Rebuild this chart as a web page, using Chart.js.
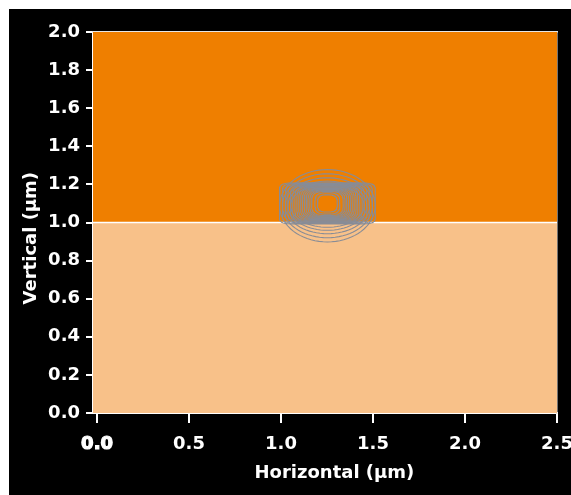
<!DOCTYPE html>
<html lang="en">
<head>
<meta charset="UTF-8">
<title>Mode profile</title>
<style>
  body { margin: 0; background: #fff; }
  #wrap { position: absolute; left: 9px; top: 9px; width: 562px; height: 486px; background: #000; }
</style>
</head>
<body>
<div id="wrap"><canvas id="myChart"></canvas></div>

<script src="https://cdn.jsdelivr.net/npm/chart.js"></script>
<script>
// two material layers, stacked vertically
const layerFrom = [0.0, 1.0];
const layerTo = [1.0, 2.0];
const layerColors = ['#f8c189', '#ef7f00'];

const xRange = [-0.022, 2.5];
const xTicks = [0.0, 0.5, 1.0, 1.5, 2.0, 2.5];
const yTicks = [0.0, 0.2, 0.4, 0.6, 0.8, 1.0, 1.2, 1.4, 1.6, 1.8, 2.0];

// field contours: centre, half width, half height, squareness (2 = ellipse)
const ringCx = 1.252;
const ringCy = [1.088, 1.088, 1.088, 1.088, 1.088,
                1.10, 1.10, 1.10, 1.10, 1.10, 1.10, 1.10, 1.10, 1.10, 1.10, 1.10,
                1.10, 1.10, 1.10, 1.10, 1.10, 1.10, 1.10];
const ringHalfW = [0.26, 0.245, 0.23, 0.215, 0.20,
                   0.261, 0.245, 0.228, 0.215, 0.201, 0.189, 0.177, 0.166, 0.156, 0.146, 0.136,
                   0.126, 0.116, 0.106, 0.096, 0.086, 0.068, 0.054];
const ringHalfH = [0.19, 0.168, 0.147, 0.129, 0.113,
                   0.108, 0.105, 0.102, 0.100, 0.097, 0.094, 0.091, 0.088, 0.085, 0.082, 0.079,
                   0.076, 0.073, 0.070, 0.067, 0.063, 0.056, 0.045];
const ringPower = [2, 2, 2, 2, 2,
                   10, 9, 8, 7, 6.5, 6, 5.6, 5.2, 4.9, 4.6, 4.4,
                   4.2, 4, 3.8, 3.6, 3.4, 3.2, 3];

function ringPoints(i) {
  const pts = [];
  const e = 2 / ringPower[i];
  for (let k = 0; k <= 72; k++) {
    const t = k / 72 * Math.PI * 2;
    const c = Math.cos(t), s = Math.sin(t);
    pts.push({
      x: ringCx + ringHalfW[i] * Math.sign(c) * Math.pow(Math.abs(c), e),
      y: ringCy[i] + ringHalfH[i] * Math.sign(s) * Math.pow(Math.abs(s), e)
    });
  }
  return pts;
}

const datasets = [];
for (let i = 0; i < ringPower.length; i++) {
  datasets.push({
    data: ringPoints(i),
    showLine: true,
    borderColor: 'rgb(136,140,150)',
    borderWidth: 1.1,
    pointRadius: 0,
    fill: false,
    order: 0
  });
}
for (let i = 0; i < layerColors.length; i++) {
  datasets.push({
    data: [{ x: xRange[0], y: layerTo[i] }, { x: xRange[1], y: layerTo[i] }],
    showLine: true,
    fill: { value: layerFrom[i] },
    backgroundColor: layerColors[i],
    borderColor: '#fff',
    borderWidth: i === 0 ? 1.5 : 0,
    pointRadius: 0,
    order: 2
  });
}

const tickFont = { family: 'DejaVu Sans', size: 18, weight: 'bold' };
const titleFont = { family: 'DejaVu Sans', size: 18, weight: 'bold' };

new Chart(document.getElementById('myChart'), {
  type: 'scatter',
  data: { datasets: datasets },
  options: {
    responsive: true,
    maintainAspectRatio: false,
    animation: false,
    layout: { padding: { top: 23, right: 14, left: 0, bottom: 0 } },
    plugins: { legend: { display: false }, tooltip: { enabled: false } },
    scales: {
      x: {
        type: 'linear',
        min: xRange[0],
        max: xRange[1],
        afterBuildTicks: s => { s.ticks = xTicks.map(v => ({ value: v })); },
        afterFit: s => { s.height = 82; s.paddingLeft = 0; s.paddingRight = 0; },
        ticks: {
          color: '#fff',
          font: tickFont,
          padding: 11,
          maxRotation: 0,
          autoSkip: false,
          callback: v => v.toFixed(1),
          textStrokeColor: '#fff',
          textStrokeWidth: c => c.index === 0 ? 1.2 : 0
        },
        grid: { display: true, drawOnChartArea: false, drawTicks: true, tickLength: 10, color: '#fff', lineWidth: 2 },
        border: { color: '#fff', width: 2 },
        title: { display: true, text: '   Horizontal (μm)', color: '#fff', font: titleFont, padding: { top: 0, bottom: 11 } }
      },
      y: {
        type: 'linear',
        min: 0,
        max: 2,
        afterBuildTicks: s => { s.ticks = yTicks.map(v => ({ value: v })); },
        afterFit: s => { s.width = 84; },
        ticks: { color: '#fff', font: tickFont, padding: 6, autoSkip: false, callback: v => v.toFixed(1) },
        grid: { display: true, drawOnChartArea: false, drawTicks: true, tickLength: 7, color: '#fff', lineWidth: 2 },
        border: { color: '#fff', width: 2 },
        title: { display: true, text: 'Vertical (μm)     ', color: '#fff', font: titleFont, padding: { top: 12, bottom: 0 } }
      },
      x2: {
        type: 'linear',
        position: 'top',
        min: xRange[0],
        max: xRange[1],
        ticks: { display: false },
        grid: { display: false, drawTicks: false },
        border: { display: true, color: '#e6e6e6', width: 1.5 },
        afterFit: s => { s.height = 0; }
      },
      y2: {
        type: 'linear',
        position: 'right',
        min: 0,
        max: 2,
        ticks: { display: false },
        grid: { display: false, drawTicks: false },
        border: { display: true, color: '#e6e6e6', width: 1.5 },
        afterFit: s => { s.width = 0; }
      }
    }
  }
});
</script>
</body>
</html>
